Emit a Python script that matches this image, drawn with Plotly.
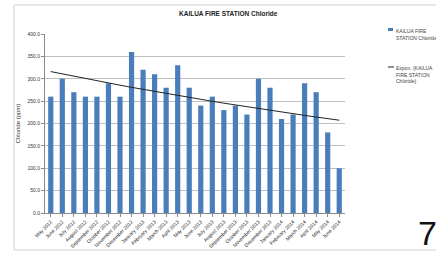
import numpy as np
import plotly.graph_objects as go

months = ["May 2012", "June 2012", "July 2012", "August 2012", "September 2012",
          "October 2012", "November 2012", "December 2012", "January 2013",
          "February 2013", "March 2013", "April 2013", "May 2013", "June 2013",
          "July 2013", "August 2013", "September 2013", "October 2013",
          "November 2013", "December 2013", "January 2014", "February 2014",
          "March 2014", "April 2014", "May 2014", "June 2014"]
chloride = [260, 300, 270, 260, 260, 290, 260, 360, 320, 310, 280, 330, 280,
            240, 260, 230, 240, 220, 300, 280, 210, 220, 290, 270, 180, 100]
y_ticks = [0, 50, 100, 150, 200, 250, 300, 350, 400]

# Exponential trendline (least squares on ln y), as in the spreadsheet
xs = np.arange(1, len(chloride) + 1)
b, a = np.polyfit(xs, np.log(chloride), 1)
trend = np.exp(a + b * xs)

FONT = "Liberation Sans, Arial, sans-serif"
BAR = "#4a7ebb"

fig = go.Figure()
fig.add_trace(go.Bar(x=months, y=chloride, marker_color=BAR,
                     marker_line_width=0, name="KAILUA FIRE STATION Chloride"))
fig.add_trace(go.Scatter(x=months, y=trend, mode="lines",
                         line=dict(color="#222222", width=1),
                         name="Expon. (KAILUA FIRE STATION Chloride)"))

fig.update_layout(
    width=436, height=254,
    margin=dict(l=45, r=91, t=34, b=41, autoexpand=False),
    paper_bgcolor="white", plot_bgcolor="white",
    showlegend=False, bargap=0.55,
    font=dict(family=FONT, size=6, color="#333333"),
)
fig.update_yaxes(range=[0, 400], tickvals=y_ticks,
                 ticktext=[f"{v:.1f}" for v in y_ticks],
                 showgrid=True, gridcolor="#bfbfbf", gridwidth=1,
                 showline=True, linecolor="#8c8c8c", linewidth=1,
                 ticks="outside", ticklen=3, tickcolor="#8c8c8c",
                 tickfont=dict(size=5), zeroline=False, automargin=False,
                 title=dict(text="Chloride (ppm)", font=dict(size=6), standoff=6))
fig.update_xaxes(tickangle=-45, tickfont=dict(size=5, color="#222222"), showline=True,
                 linecolor="#8c8c8c", linewidth=1, ticks="outside", ticklen=3,
                 tickcolor="#8c8c8c", automargin=False)

# Outer chart frame
fig.add_shape(type="rect", xref="paper", yref="paper",
              x0=-31/300, x1=395/300, y0=-37/179, y1=208/179,
              line=dict(color="#d0d0d0", width=1), fillcolor="rgba(0,0,0,0)",
              layer="below")

# Title
fig.add_annotation(text="<b>KAILUA FIRE STATION Chloride</b>", xref="paper", yref="paper",
                   x=(228-45)/300, y=(213-13)/179, showarrow=False,
                   font=dict(size=6.5, color="#222222"), xanchor="center", yanchor="middle")

# Legend (manual)
fig.add_shape(type="rect", xref="paper", yref="paper",
              x0=(388-45)/300, x1=(393-45)/300, y0=(213-31)/179, y1=(213-28)/179,
              fillcolor=BAR, line_width=0)
fig.add_annotation(text="KAILUA FIRE<br>STATION Chloride", xref="paper", yref="paper",
                   x=(394-45)/300, y=(213-26)/179, showarrow=False, align="left",
                   xanchor="left", yanchor="top", font=dict(size=5, color="#444444"))
fig.add_shape(type="line", xref="paper", yref="paper",
              x0=(388-45)/300, x1=(394-45)/300, y0=(213-67)/179, y1=(213-67)/179,
              line=dict(color="#222222", width=1))
fig.add_annotation(text="Expon. (KAILUA<br>FIRE STATION<br>Chloride)", xref="paper", yref="paper",
                   x=(394-45)/300, y=(213-63)/179, showarrow=False, align="left",
                   xanchor="left", yanchor="top", font=dict(size=5, color="#444444"))

# Slide number
fig.add_annotation(text="7", xref="paper", yref="paper",
                   x=(427-45)/300, y=(213-233)/179, showarrow=False,
                   xanchor="center", yanchor="middle",
                   font=dict(size=34, color="#111111", family=FONT))

fig.write_html("out.html", config={"displayModeBar": False},
               post_script="document.body.style.margin='0';document.body.style.overflow='hidden';")
